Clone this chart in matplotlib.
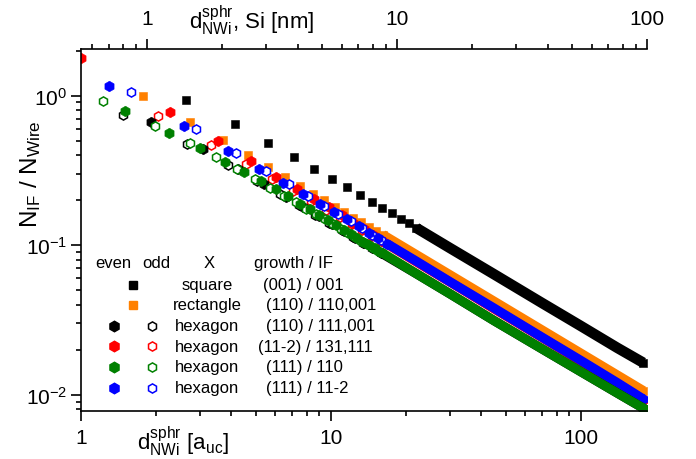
# N_IF / N_Wire versus wire diameter for different nanowire cross sections
import matplotlib
matplotlib.use("Agg")
from matplotlib import pyplot as plt
from matplotlib import ticker


plt.rcParams["font.family"] = ["Liberation Sans", "DejaVu Sans"]
plt.rcParams["mathtext.fontset"] = "custom"
plt.rcParams["mathtext.rm"] = "Liberation Sans"
plt.rcParams["mathtext.it"] = "Liberation Sans:italic"
plt.rcParams["mathtext.default"] = "regular"
plt.rcParams["axes.unicode_minus"] = False

# Si lattice constant [nm] for the top axis
A_SI = 0.5431

# --- data (x in a_uc, y = N_IF / N_Wire) ---
# square (001)/001, black squares
sq_x = [2.63, 4.12, 5.61, 7.10, 8.59, 10.08, 11.57, 13.06, 14.55, 16.04, 17.53, 19.02, 20.51, 22.0]
sq_y = [0.936, 0.643, 0.485, 0.387, 0.322, 0.277, 0.244, 0.2175, 0.196, 0.1783, 0.1637, 0.1509, 0.1399, 0.1305]
sq_tail_x = [22.0, 30, 45, 70, 100, 140, 178]
sq_tail_y = [0.1305, 0.0957, 0.0640, 0.04114, 0.0289, 0.02064, 0.0164]

# rectangle (110)/110,001, orange squares
rect_x = [1.775, 2.73, 3.685, 4.64, 5.595, 6.55, 7.505, 8.46, 9.415, 10.37, 11.325, 12.28, 13.235, 14.19, 15.145, 16.1]
rect_y = [1.00, 0.670, 0.502, 0.399, 0.334, 0.287, 0.248, 0.220, 0.1997, 0.1803, 0.1656, 0.1531, 0.1421, 0.1325, 0.1241, 0.1168]
rect_tail_x = [16.1, 22, 30, 45, 70, 100, 140, 178]
rect_tail_y = [0.1168, 0.0855, 0.0627, 0.0418, 0.02686, 0.0188, 0.01343, 0.01056]

# hexagon (11-2)/131,111, red
red_even_x = [1.0, 2.28, 3.54, 4.79, 6.04, 7.29, 8.54, 9.79, 11.04, 12.29, 13.54, 14.79, 16.04]
red_even_y = [1.78, 0.78, 0.50, 0.364, 0.285, 0.238, 0.205, 0.179, 0.1585, 0.1416, 0.1278, 0.1163, 0.1066]
red_odd_x = [2.04, 3.30, 4.56, 5.82, 7.08, 8.34, 9.6, 10.86, 12.12, 13.38, 14.64, 15.9]
red_odd_y = [0.735, 0.47, 0.35, 0.278, 0.232, 0.198, 0.173, 0.1538, 0.1386, 0.1263, 0.1154, 0.1069]
red_tail_x = [16.04, 22, 30, 45, 70, 100, 140, 178]
red_tail_y = [0.1066, 0.0773, 0.0567, 0.03756, 0.02414, 0.0168, 0.0119, 0.00927]

# hexagon (111)/11-2, blue
blue_even_x = [1.30, 2.59, 3.88, 5.17, 6.46, 7.75, 9.04, 10.33, 11.62, 12.91, 14.2, 15.49, 16.78]
blue_even_y = [1.156, 0.627, 0.425, 0.323, 0.261, 0.22, 0.189, 0.168, 0.1489, 0.1340, 0.1211, 0.1110, 0.1025]
blue_odd_x = [1.58, 2.88, 4.19, 5.50, 6.80, 8.10, 9.40, 10.70, 12.0, 13.3, 14.6, 15.9]
blue_odd_y = [1.054, 0.599, 0.414, 0.315, 0.256, 0.214, 0.184, 0.1617, 0.1442, 0.1301, 0.1178, 0.1082]
blue_tail_x = [16.78, 22, 30, 45, 70, 100, 140, 178]
blue_tail_y = [0.1025, 0.0782, 0.0570, 0.0380, 0.02429, 0.0170, 0.01207, 0.00938]

# hexagon (110)/111,001, black
bhex_even_x = [1.91, 3.08, 4.25, 5.42, 6.59, 7.76, 8.93, 10.1, 11.27, 12.44, 13.61, 14.78, 15.95]
bhex_even_y = [0.67, 0.44, 0.323, 0.256, 0.210, 0.179, 0.156, 0.139, 0.1242, 0.1125, 0.1036, 0.0954, 0.0884]
bhex_odd_x = [1.47, 2.66, 3.86, 5.05, 6.25, 7.45, 8.65, 9.85, 11.05, 12.25, 13.45, 14.65, 15.85]
bhex_odd_y = [0.743, 0.475, 0.345, 0.270, 0.2195, 0.185, 0.1595, 0.141, 0.1258, 0.1143, 0.1041, 0.0962, 0.0890]
bhex_tail_x = [15.95, 22, 30, 45, 70, 100, 140, 178]
bhex_tail_y = [0.0884, 0.0645, 0.0473, 0.03133, 0.02029, 0.0143, 0.01029, 0.00815]

# hexagon (111)/110, green
green_even_x = [1.50, 2.24, 3.00, 3.78, 4.50, 5.25, 6.03, 6.75, 7.50, 8.25, 9.0, 9.75, 10.5,
                11.25, 12.0, 12.75, 13.5, 14.25, 15.0, 15.75]
green_even_y = [0.79, 0.566, 0.445, 0.358, 0.308, 0.27, 0.238, 0.212, 0.189, 0.174, 0.159, 0.147, 0.1365,
                0.1271, 0.1192, 0.1122, 0.1059, 0.1004, 0.0953, 0.0908]
green_odd_x = [1.22, 1.98, 2.72, 3.47, 4.22, 4.97, 5.72, 6.47, 7.22, 7.97, 8.72, 9.47, 10.22,
               10.97, 11.72, 12.47, 13.22, 13.97, 14.72, 15.47]
green_odd_y = [0.926, 0.63, 0.48, 0.389, 0.325, 0.277, 0.242, 0.215, 0.194, 0.176, 0.162, 0.149, 0.138,
               0.1294, 0.1212, 0.1139, 0.1074, 0.1016, 0.0965, 0.0918]
green_tail_x = [15.75, 22, 30, 45, 70, 100, 140, 178]
green_tail_y = [0.0908, 0.0645, 0.0473, 0.03133, 0.02029, 0.0143, 0.01029, 0.00815]

# top axis ticks [nm]
nm_major = [1, 10, 100]
nm_minor = [0.6, 0.7, 0.8, 0.9, 2, 3, 4, 5, 6, 7, 8, 9, 20, 30, 40, 50, 60, 70, 80, 90]

# legend table
legend_header = ["even", "odd", "X", "growth / IF"]
legend_shapes = ["square", "rectangle", "hexagon", "hexagon", "hexagon", "hexagon"]
legend_growth = ["(001) / 001", "(110) / 110,001", "(110) / 111,001", "(11-2) / 131,111",
                 "(111) / 110", "(111) / 11-2"]

BLACK = "#000000"
ORANGE = "#FF8000"
RED = "#FF0000"
GREEN = "#008000"
BLUE = "#0000FF"

SQ_MS = 6.0
HEX_MS = 7.6
OPEN_MS = 6.6
SQ_LW = 7.6
HEX_LW = 6.7


fig = plt.figure(figsize=(6.96, 4.6), dpi=100)
ax = fig.add_axes([0.1164, 0.1043, 0.8132, 0.787])


def plot_points(x, y, color, marker, filled=True):
	if filled:
		ms = SQ_MS if marker == "s" else HEX_MS
		ax.plot(x, y, ls="none", marker=marker, ms=ms, mfc=color, mec=color, mew=0.4)
	else:
		ax.plot(x, y, ls="none", marker=marker, ms=OPEN_MS, mfc="white", mec=color, mew=1.1)


def plot_band(x, y, color, marker):
	lw = SQ_LW if marker == "s" else HEX_LW
	ms = SQ_MS if marker == "s" else HEX_MS
	ax.plot(x, y, color=color, lw=lw, solid_capstyle="butt", solid_joinstyle="round",
			marker=marker, ms=ms, mfc=color, mec=color, mew=0.4, markevery=[len(x) - 1])


# draw order follows the overlaps in the original
plot_points(sq_x, sq_y, BLACK, "s")
plot_band(sq_tail_x, sq_tail_y, BLACK, "s")
plot_points(rect_x, rect_y, ORANGE, "s")
plot_band(rect_tail_x, rect_tail_y, ORANGE, "s")
plot_points(red_odd_x, red_odd_y, RED, "h", filled=False)
plot_points(red_even_x, red_even_y, RED, "h")
plot_band(red_tail_x, red_tail_y, RED, "h")
plot_points(blue_odd_x, blue_odd_y, BLUE, "h", filled=False)
plot_points(blue_even_x, blue_even_y, BLUE, "h")
plot_band(blue_tail_x, blue_tail_y, BLUE, "h")
plot_points(bhex_odd_x, bhex_odd_y, BLACK, "h", filled=False)
plot_points(bhex_even_x, bhex_even_y, BLACK, "h")
plot_band(bhex_tail_x, bhex_tail_y, BLACK, "h")
plot_points(green_odd_x, green_odd_y, GREEN, "h", filled=False)
plot_points(green_even_x, green_even_y, GREEN, "h")
plot_band(green_tail_x, green_tail_y, GREEN, "h")

# axes
ax.set_xscale("log")
ax.set_yscale("log")
ax.set_xlim(1, 184.2)
ax.set_ylim(0.0078, 2.05)
ax.spines["right"].set_visible(False)
ax.spines["top"].set_visible(False)
for side in ["left", "bottom"]:
	ax.spines[side].set_linewidth(1.2)
ax.tick_params(which="major", direction="out", length=7, width=1.2, labelsize=15)
ax.tick_params(which="minor", direction="out", length=3.5, width=1.2)
ax.tick_params(axis="x", which="major", pad=5)
ax.tick_params(axis="y", which="major", pad=3)
ax.tick_params(right=False, top=False)
ax.xaxis.set_major_formatter(ticker.FuncFormatter(lambda v, p: f"{v:g}"))
ax.xaxis.set_minor_formatter(ticker.NullFormatter())
ax.yaxis.set_minor_formatter(ticker.NullFormatter())

ax.set_xlabel(r"d$^{\mathregular{sphr}}_{\mathregular{NWi}}$ [a$_{\mathregular{uc}}$]", fontsize=16)
ax.xaxis.set_label_coords(0.18, -0.036)
ax.set_ylabel(r"N$_{\mathregular{IF}}$ / N$_{\mathregular{Wire}}$", fontsize=17.5)
ax.yaxis.set_label_coords(-0.067, 0.657)

secax = ax.secondary_xaxis("top", functions=(lambda v: v * A_SI, lambda v: v / A_SI))
secax.spines["top"].set_linewidth(1.2)
secax.xaxis.set_major_locator(ticker.FixedLocator(nm_major))
secax.xaxis.set_minor_locator(ticker.FixedLocator(nm_minor))
secax.tick_params(which="major", direction="out", length=7, width=1.2, labelsize=15, pad=8)
secax.tick_params(which="minor", direction="out", length=3.5, width=1.2)
secax.xaxis.set_major_formatter(ticker.FuncFormatter(lambda v, p: f"{v:g}"))
secax.xaxis.set_minor_formatter(ticker.NullFormatter())
secax.set_xlabel(r"d$^{\mathregular{sphr}}_{\mathregular{NWi}}$, Si [nm]", fontsize=16)
secax.xaxis.set_label_coords(0.302, 1.058, transform=ax.transAxes)

# legend table inside the axes
header_x = [0.0565, 0.1325, 0.226, 0.3746]
for (label, hx) in zip(legend_header, header_x):
	ax.text(hx, 0.409, label, transform=ax.transAxes, ha="center", va="center", fontsize=12)

row_y = [0.349, 0.293, 0.236, 0.179, 0.122, 0.064]
growth_x = [0.321, 0.326, 0.326, 0.3133, 0.326, 0.326]
row_colors = [BLACK, ORANGE, BLACK, RED, GREEN, BLUE]
for i, (shape, growth) in enumerate(zip(legend_shapes, legend_growth)):
	ry = row_y[i]
	c = row_colors[i]
	if i < 2:
		ax.plot([0.0924], [ry], transform=ax.transAxes, ls="none", marker="s", ms=SQ_MS,
				mfc=c, mec=c, clip_on=False)
	else:
		ax.plot([0.0588], [ry], transform=ax.transAxes, ls="none", marker="h", ms=HEX_MS,
				mfc=c, mec=c, clip_on=False)
		ax.plot([0.1249], [ry], transform=ax.transAxes, ls="none", marker="h", ms=OPEN_MS,
				mfc="white", mec=c, mew=1.1, clip_on=False)
	ax.text(0.2226, ry, shape, transform=ax.transAxes, ha="center", va="center", fontsize=12)
	ax.text(growth_x[i], ry, growth, transform=ax.transAxes, ha="left", va="center", fontsize=12)

fig.savefig("out.png", dpi=100)
